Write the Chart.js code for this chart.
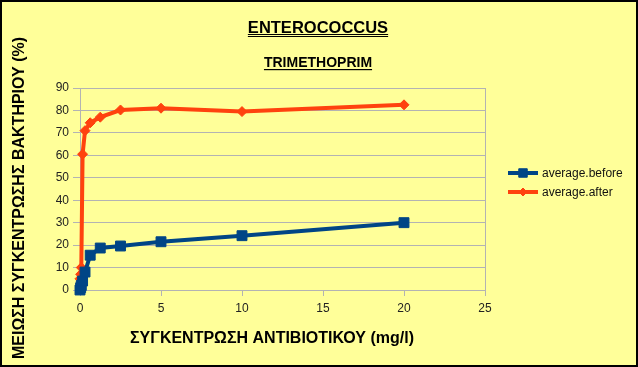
<!DOCTYPE html>
<html>
<head>
<meta charset="utf-8">
<script src="https://cdn.jsdelivr.net/npm/chart.js@4/dist/chart.umd.min.js"></script>
<style>
  html, body { margin: 0; padding: 0; background: #ffff99; }
  #wrap { width: 638px; height: 367px; }
</style>
</head>
<body>
<div id="wrap"><canvas id="chart" width="638" height="367"></canvas></div>
<script>
// values
const concentrations = [0, 0.04, 0.08, 0.16, 0.31, 0.63, 1.25, 2.5, 5, 10, 20];
const averageBefore = [0, 1, 2, 4, 8, 15.5, 18.7, 19.6, 21.5, 24.2, 30];
const averageAfter = [5, 7, 10, 60.5, 71, 74.5, 77, 80.2, 81, 79.5, 82.5];
const xTicks = [0, 5, 10, 15, 20, 25];
const yTicks = [0, 10, 20, 30, 40, 50, 60, 70, 80, 90];

const title = 'ENTEROCOCCUS';
const subtitle = 'TRIMETHOPRIM';
const xTitle = 'ΣΥΓΚΕΝΤΡΩΣΗ ΑΝΤΙΒΙΟΤΙΚΟΥ (mg/l)';
const yTitle = 'ΜΕΙΩΣΗ ΣΥΓΚΕΝΤΡΩΣΗΣ ΒΑΚΤΗΡΙΟΥ (%)';

const FONT = '"Liberation Sans", Arial, sans-serif';
const GRID = '#b3b3b3';

function points(ys) {
    return concentrations.map((x, i) => ({ x: x, y: ys[i] }));
}

const decor = {
    id: 'decor',
    beforeDraw(chart) {
        const ctx = chart.ctx;
        ctx.save();
        ctx.fillStyle = '#ffff99';
        ctx.fillRect(0, 0, chart.width, chart.height);
        ctx.restore();
    },
    afterDraw(chart) {
        const ctx = chart.ctx;
        ctx.save();
        ctx.fillStyle = '#000';
        ctx.strokeStyle = '#000';
        ctx.textAlign = 'center';
        ctx.textBaseline = 'alphabetic';

        // titles, underlined
        ctx.font = 'bold 16.5px ' + FONT;
        let w = ctx.measureText(title).width;
        ctx.fillText(title, 318, 33);
        ctx.fillRect(318 - w / 2, 34, w, 1);
        ctx.fillRect(318 - w / 2, 36, w, 1);

        ctx.font = 'bold 14px ' + FONT;
        w = ctx.measureText(subtitle).width;
        ctx.fillText(subtitle, 318, 67);
        ctx.fillRect(318 - w / 2, 69, w, 1.2);

        // axis titles
        ctx.font = 'bold 16px ' + FONT;
        ctx.fillText(xTitle, 272, 343);
        ctx.save();
        ctx.translate(24, 198);
        ctx.rotate(-Math.PI / 2);
        ctx.fillText(yTitle, 0, 0);
        ctx.restore();

        // legend
        ctx.textAlign = 'left';
        ctx.textBaseline = 'middle';
        ctx.font = '12px ' + FONT;
        chart.data.datasets.forEach((ds, i) => {
            const y = 173 + i * 19;
            ctx.strokeStyle = ds.borderColor;
            ctx.lineWidth = 4;
            ctx.beginPath();
            ctx.moveTo(508, y);
            ctx.lineTo(538, y);
            ctx.stroke();
            ctx.fillStyle = ds.borderColor;
            ctx.strokeStyle = ds.borderColor;
            ctx.lineWidth = 1;
            Chart.helpers.drawPoint(ctx, { pointStyle: ds.pointStyle, radius: ds.pointRadius - 1, rotation: 0, borderWidth: 1 }, 523, y);
            ctx.fillStyle = '#111';
            ctx.fillText(ds.label, 542, y + 1);
        });

        // outer frame
        ctx.strokeStyle = '#000';
        ctx.lineWidth = 2;
        ctx.strokeRect(1, 1, chart.width - 2, chart.height - 2);
        ctx.restore();
    }
};

new Chart(document.getElementById('chart'), {
    type: 'scatter',
    data: {
        datasets: [{
            label: 'average.before',
            data: points(averageBefore),
            showLine: true,
            clip: false,
            borderColor: '#004586',
            backgroundColor: '#004586',
            borderWidth: 4,
            pointStyle: 'rect',
            pointRadius: 7,
            pointBorderWidth: 1,
            tension: 0
        }, {
            label: 'average.after',
            data: points(averageAfter),
            showLine: true,
            clip: false,
            borderColor: '#ff420e',
            backgroundColor: '#ff420e',
            borderWidth: 4,
            pointStyle: 'rectRot',
            pointRadius: 5,
            pointBorderWidth: 1,
            tension: 0
        }]
    },
    plugins: [decor],
    options: {
        responsive: false,
        animation: false,
        events: [],
        layout: { padding: { top: 88, right: 153, left: 0, bottom: 0 } },
        plugins: {
            legend: { display: false },
            title: { display: false },
            tooltip: { enabled: false }
        },
        scales: {
            x: {
                type: 'linear',
                min: 0,
                max: 25,
                afterFit(scale) { scale.height = 77; },
                afterBuildTicks(scale) { scale.ticks = xTicks.map(v => ({ value: v })); },
                ticks: { color: '#222', font: { family: FONT, size: 12 }, padding: 5 },
                grid: {
                    color: ctx => (ctx.index === 0 || ctx.index === xTicks.length - 1) ? GRID : 'rgba(0,0,0,0)',
                    tickColor: GRID,
                    tickLength: 6,
                    lineWidth: 1
                },
                border: { color: GRID }
            },
            y: {
                min: 0,
                max: 90,
                afterFit(scale) { scale.width = 80; },
                afterBuildTicks(scale) { scale.ticks = yTicks.map(v => ({ value: v })); },
                ticks: { color: '#222', font: { family: FONT, size: 12 }, padding: 4 },
                grid: { color: GRID, tickColor: GRID, tickLength: 7, lineWidth: 1 },
                border: { color: GRID }
            }
        }
    }
});
</script>
</body>
</html>
